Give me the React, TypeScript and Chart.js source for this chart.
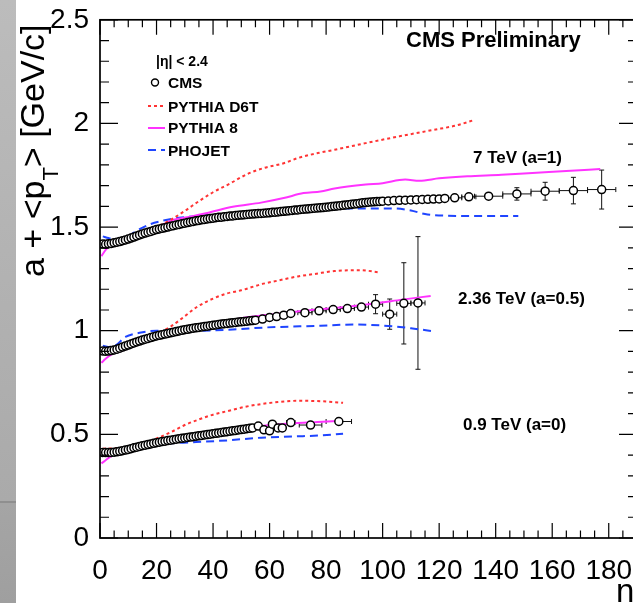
import React, { useEffect, useRef } from "react";
import { Chart, registerables } from "chart.js";
Chart.register(...registerables);

const FONT = '"Liberation Sans", Arial, Helvetica, sans-serif';

// ---------- axes ----------
const X_MIN = 0;
const X_MAX = 190;
const Y_MIN = 0;
const Y_MAX = 2.5;
const X_MAJOR = 20;
const X_MINOR = 5;
const Y_MAJOR = 0.5;
const Y_MINOR = 0.1;

// ---------- CMS data ----------
// 7 TeV (a=1): n = 1..100
const cms7Dense = [
  1.418, 1.417, 1.419, 1.421, 1.424, 1.427, 1.43, 1.434, 1.438, 1.442,
  1.447, 1.452, 1.457, 1.462, 1.467, 1.471, 1.475, 1.479, 1.484, 1.488,
  1.491, 1.494, 1.497, 1.5, 1.504, 1.507, 1.51, 1.513, 1.516, 1.519,
  1.522, 1.525, 1.527, 1.53, 1.532, 1.535, 1.537, 1.539, 1.541, 1.543,
  1.545, 1.547, 1.548, 1.55, 1.551, 1.553, 1.554, 1.556, 1.557, 1.558,
  1.559, 1.561, 1.562, 1.563, 1.564, 1.565, 1.566, 1.567, 1.568, 1.569,
  1.571, 1.572, 1.573, 1.575, 1.576, 1.577, 1.579, 1.58, 1.582, 1.583,
  1.585, 1.586, 1.587, 1.588, 1.59, 1.591, 1.592, 1.593, 1.594, 1.596,
  1.597, 1.599, 1.6, 1.602, 1.603, 1.605, 1.607, 1.608, 1.61, 1.611,
  1.613, 1.615, 1.617, 1.618, 1.62, 1.621, 1.622, 1.623, 1.624, 1.625,
];
const cms7WideN = [102, 104, 106, 108, 110, 112, 114, 116, 118, 120, 122, 125.5, 130.5, 137.5, 147.5, 157.5, 167.5, 177.5];
const cms7Wide = [1.626, 1.628, 1.629, 1.63, 1.631, 1.632, 1.633, 1.634, 1.635, 1.636, 1.638, 1.641, 1.646, 1.649, 1.66, 1.673, 1.676, 1.681];
const cms7WideErrY = [0.003, 0.003, 0.003, 0.003, 0.003, 0.003, 0.003, 0.004, 0.004, 0.004, 0.005, 0.006, 0.008, 0.012, 0.03, 0.043, 0.064, 0.094];
const cms7WideErrX = [1, 1, 1, 1, 1, 1, 1, 1, 1, 1, 1, 2.5, 2.5, 5, 5, 5, 5, 5];

// 2.36 TeV (a=0.5): n = 1..55
const cms236Dense = [
  0.902, 0.901, 0.902, 0.904, 0.907, 0.911, 0.916, 0.921, 0.926, 0.931,
  0.936, 0.941, 0.946, 0.95, 0.955, 0.959, 0.963, 0.967, 0.971, 0.975,
  0.978, 0.981, 0.984, 0.987, 0.99, 0.993, 0.996, 0.999, 1.002, 1.005,
  1.007, 1.01, 1.012, 1.014, 1.016, 1.018, 1.02, 1.022, 1.024, 1.026,
  1.028, 1.03, 1.032, 1.034, 1.035, 1.037, 1.039, 1.04, 1.042, 1.043,
  1.045, 1.046, 1.048, 1.049, 1.051,
];
const cms236WideN = [57.5, 60, 62.5, 65, 67.5, 72.5, 77.5, 82.5, 87.5, 92.5, 97.5, 102.5, 107.5, 112.5];
const cms236Wide = [1.056, 1.064, 1.068, 1.075, 1.083, 1.087, 1.096, 1.102, 1.107, 1.114, 1.128, 1.08, 1.132, 1.134];
const cms236WideErrY = [0.004, 0.004, 0.005, 0.005, 0.006, 0.007, 0.008, 0.01, 0.012, 0.015, 0.046, 0.073, 0.196, 0.32];
const cms236WideErrX = [1.25, 1.25, 1.25, 1.25, 1.25, 2.5, 2.5, 2.5, 2.5, 2.5, 2.5, 2.5, 2.5, 2.5];

// 0.9 TeV (a=0): n = 1..54
const cms09Dense = [
  0.413, 0.412, 0.412, 0.413, 0.414, 0.416, 0.418, 0.421, 0.424, 0.427,
  0.431, 0.435, 0.438, 0.442, 0.445, 0.448, 0.451, 0.454, 0.457, 0.46,
  0.462, 0.465, 0.467, 0.47, 0.472, 0.474, 0.477, 0.479, 0.481, 0.483,
  0.485, 0.487, 0.489, 0.491, 0.493, 0.495, 0.497, 0.499, 0.501, 0.503,
  0.505, 0.507, 0.509, 0.511, 0.513, 0.515, 0.517, 0.519, 0.521, 0.523,
  0.525, 0.527, 0.529, 0.531,
];
const cms09WideN = [56, 58, 60, 61, 63, 64.5, 67.5, 74.5, 84.5];
const cms09Wide = [0.54, 0.522, 0.517, 0.549, 0.531, 0.531, 0.557, 0.545, 0.562];
const cms09WideErrY = [0.005, 0.006, 0.006, 0.007, 0.007, 0.008, 0.008, 0.01, 0.012];
const cms09WideErrX = [1, 1, 1, 1, 1, 1, 1.5, 4, 4.5];

// ---------- MC curves ----------
const d6t7N = [1, 5, 10, 15, 20, 25, 30, 35, 40, 46, 52, 58, 65, 70, 77, 83, 94, 106, 118, 126, 132];
const d6t7V = [1.43, 1.432, 1.445, 1.468, 1.5, 1.535, 1.578, 1.625, 1.668, 1.71, 1.755, 1.785, 1.808, 1.833, 1.857, 1.873, 1.905, 1.938, 1.969, 1.99, 2.015];
const py87N = [0.5, 2, 4, 7, 10, 14, 18, 22, 26, 31, 38, 47, 57, 65, 72, 78, 83, 94, 100, 108, 113, 120, 130, 142, 153, 165, 177];
const py87V = [1.36, 1.39, 1.415, 1.432, 1.443, 1.46, 1.483, 1.51, 1.535, 1.548, 1.568, 1.598, 1.618, 1.64, 1.664, 1.672, 1.686, 1.705, 1.712, 1.729, 1.724, 1.735, 1.745, 1.752, 1.761, 1.77, 1.78];
const pho7N = [1, 3, 6, 9, 14, 18, 22, 28, 35, 45, 55, 65, 75, 90, 104, 110, 115, 122, 135, 148];
const pho7V = [1.455, 1.447, 1.44, 1.45, 1.49, 1.515, 1.53, 1.545, 1.553, 1.562, 1.572, 1.582, 1.588, 1.59, 1.59, 1.58, 1.563, 1.555, 1.553, 1.553];

const d6t236N = [1, 5, 10, 15, 20, 25, 30, 34, 40, 45, 50, 57, 63, 70, 76, 83, 92, 99];
const d6t236V = [0.915, 0.92, 0.935, 0.955, 0.982, 1.02, 1.07, 1.112, 1.155, 1.18, 1.195, 1.224, 1.242, 1.262, 1.274, 1.288, 1.292, 1.281];
const py8236N = [0.5, 2, 4, 7, 10, 15, 20, 25, 30, 35, 40, 45, 50, 55, 62, 73, 85, 97, 107, 117];
const py8236V = [0.845, 0.865, 0.885, 0.9, 0.915, 0.94, 0.963, 0.985, 1.0, 1.015, 1.03, 1.045, 1.06, 1.07, 1.08, 1.098, 1.112, 1.131, 1.15, 1.168];
const pho236N = [1, 3, 5, 9, 14, 20, 35, 47, 59, 78, 90, 100, 110, 118];
const pho236V = [0.928, 0.922, 0.925, 0.97, 0.99, 1.0, 1.0, 1.006, 1.016, 1.024, 1.03, 1.025, 1.012, 0.997];

const d6t09N = [1, 5, 10, 15, 20, 25, 30, 35, 40, 45, 51, 57, 63, 70, 78, 86];
const d6t09V = [0.431, 0.433, 0.44, 0.455, 0.48, 0.51, 0.545, 0.572, 0.595, 0.612, 0.632, 0.646, 0.656, 0.662, 0.66, 0.652];
const py809N = [0.5, 2, 4, 7, 10, 15, 20, 30, 40, 50, 60, 70, 77, 84];
const py809V = [0.36, 0.375, 0.395, 0.41, 0.42, 0.44, 0.458, 0.486, 0.508, 0.527, 0.545, 0.555, 0.56, 0.565];
const pho09N = [1, 3, 6, 10, 15, 22, 34, 45, 57, 69, 78, 86];
const pho09V = [0.423, 0.42, 0.422, 0.435, 0.448, 0.455, 0.463, 0.471, 0.484, 0.49, 0.495, 0.503];

// ---------- text ----------
const legendHeader = "|\u03b7| < 2.4";
const legendLabels = ["CMS", "PYTHIA D6T", "PYTHIA 8", "PHOJET"];
const energyLabels = ["7 TeV (a=1)", "2.36 TeV (a=0.5)", "0.9 TeV (a=0)"];
const cornerLabel = "CMS Preliminary";
const xTitle = "n";

const RED = "#ff3333";
const MAGENTA = "#ff33ff";
const BLUE = "#1f45ff";

type P = { x: number; y: number; ex?: number; ey?: number };

function densePts(vals: number[]): P[] {
  return vals.map((v, i) => ({ x: i + 1, y: v }));
}
function widePts(ns: number[], vs: number[], ex: number[], ey: number[]): P[] {
  return ns.map((n, i) => ({ x: n, y: vs[i], ex: ex[i], ey: ey[i] }));
}
function curve(ns: number[], vs: number[]): P[] {
  return ns.map((n, i) => ({ x: n, y: vs[i] }));
}

function cmsDataset(data: P[]) {
  return {
    type: "scatter" as const,
    data,
    errorBars: true,
    pointStyle: "circle",
    pointRadius: 4,
    pointBorderWidth: 1.5,
    pointBorderColor: "#000",
    pointBackgroundColor: "#fff",
    showLine: false,
    order: 0,
  };
}
function mcDataset(data: P[], color: string, dash: number[]) {
  return {
    type: "line" as const,
    data,
    borderColor: color,
    borderWidth: 2,
    borderDash: dash,
    pointRadius: 0,
    fill: false,
    cubicInterpolationMode: "monotone" as const,
    order: 1,
  };
}

const DOT = [3, 3];
const DASH = [8, 5];

const errorBarPlugin = {
  id: "errorBars",
  beforeDatasetsDraw(chart: any) {
    const { ctx, scales } = chart;
    const xs = scales.x;
    const ys = scales.y;
    ctx.save();
    ctx.strokeStyle = "#111";
    ctx.lineWidth = 1;
    ctx.beginPath();
    chart.data.datasets.forEach((ds: any) => {
      if (!ds.errorBars) return;
      ds.data.forEach((p: P) => {
        const px = xs.getPixelForValue(p.x);
        const py = ys.getPixelForValue(p.y);
        if (p.ey) {
          const t = ys.getPixelForValue(p.y + p.ey);
          const b = ys.getPixelForValue(p.y - p.ey);
          ctx.moveTo(px, t);
          ctx.lineTo(px, b);
          ctx.moveTo(px - 2.5, t);
          ctx.lineTo(px + 2.5, t);
          ctx.moveTo(px - 2.5, b);
          ctx.lineTo(px + 2.5, b);
        }
        if (p.ex) {
          const l = xs.getPixelForValue(p.x - p.ex);
          const r = xs.getPixelForValue(p.x + p.ex);
          ctx.moveTo(l, py);
          ctx.lineTo(r, py);
          ctx.moveTo(l, py - 2.5);
          ctx.lineTo(l, py + 2.5);
          ctx.moveTo(r, py - 2.5);
          ctx.lineTo(r, py + 2.5);
        }
      });
    });
    ctx.stroke();
    ctx.restore();
  },
};

const framePlugin = {
  id: "rootFrame",
  afterDraw(chart: any) {
    const { ctx, chartArea: a, scales } = chart;
    const xs = scales.x;
    const ys = scales.y;
    ctx.save();
    // ticks
    ctx.strokeStyle = "#000";
    ctx.lineWidth = 1.2;
    ctx.beginPath();
    const nx = Math.round((X_MAX - X_MIN) / X_MINOR);
    for (let k = 0; k <= nx; k++) {
      const v = X_MIN + k * X_MINOR;
      const px = xs.getPixelForValue(v);
      const major = Math.abs(v / X_MAJOR - Math.round(v / X_MAJOR)) < 1e-6;
      const len = major ? 15 : 7.5;
      ctx.moveTo(px, a.bottom);
      ctx.lineTo(px, a.bottom - len);
      ctx.moveTo(px, a.top);
      ctx.lineTo(px, a.top + len);
    }
    const ny = Math.round((Y_MAX - Y_MIN) / Y_MINOR);
    for (let k = 0; k <= ny; k++) {
      const v = Y_MIN + k * Y_MINOR;
      const py = ys.getPixelForValue(v);
      const major = Math.abs(v / Y_MAJOR - Math.round(v / Y_MAJOR)) < 1e-6;
      const len = major ? 18 : 9;
      ctx.moveTo(a.left, py);
      ctx.lineTo(a.left + len, py);
      ctx.moveTo(a.right, py);
      ctx.lineTo(a.right - len, py);
    }
    ctx.stroke();
    // frame
    ctx.lineWidth = 1.7;
    ctx.strokeRect(a.left, a.top, a.right - a.left, a.bottom - a.top);

    // corner label
    ctx.fillStyle = "#000";
    ctx.textAlign = "left";
    ctx.textBaseline = "alphabetic";
    ctx.font = `bold 22px ${FONT}`;
    ctx.fillText(cornerLabel, 406, 47);

    // legend
    ctx.font = `bold 14px ${FONT}`;
    ctx.fillText(legendHeader, 156, 66);
    ctx.font = `bold 15.5px ${FONT}`;
    const rows = [88, 111.5, 133, 155.5];
    legendLabels.forEach((t, i) => ctx.fillText(t, 168, rows[i]));
    // legend samples
    ctx.beginPath();
    ctx.arc(155, 82.5, 3.5, 0, Math.PI * 2);
    ctx.fillStyle = "#fff";
    ctx.fill();
    ctx.lineWidth = 1.4;
    ctx.strokeStyle = "#000";
    ctx.stroke();
    const samples: [string, number[], number][] = [
      [RED, DOT, 106],
      [MAGENTA, [], 128],
      [BLUE, DASH, 150],
    ];
    samples.forEach(([c, d, yy]) => {
      ctx.beginPath();
      ctx.setLineDash(d);
      ctx.strokeStyle = c;
      ctx.lineWidth = 2;
      ctx.moveTo(148, yy);
      ctx.lineTo(165, yy);
      ctx.stroke();
    });
    ctx.setLineDash([]);

    // energy labels
    ctx.fillStyle = "#000";
    ctx.font = `bold 17px ${FONT}`;
    ctx.fillText(energyLabels[0], 473, 163);
    ctx.fillText(energyLabels[1], 458, 304);
    ctx.fillText(energyLabels[2], 463, 430);

    // y title (rotated, with subscript T)
    ctx.save();
    ctx.translate(44, 277);
    ctx.rotate(-Math.PI / 2);
    ctx.font = `34px ${FONT}`;
    let cx = 0;
    const p1 = "a + <p";
    ctx.fillText(p1, cx, 0);
    cx += ctx.measureText(p1).width;
    ctx.font = `22px ${FONT}`;
    ctx.fillText("T", cx, 14);
    cx += ctx.measureText("T").width;
    ctx.font = `34px ${FONT}`;
    ctx.fillText("> [GeV/c]", cx, 0);
    ctx.restore();

    // x title (cropped at the right edge)
    ctx.font = `33px ${FONT}`;
    ctx.fillText(xTitle, 616, 602);
    ctx.restore();
  },
};

export default function App() {
  const ref = useRef<HTMLCanvasElement | null>(null);
  useEffect(() => {
    if (!ref.current) return;
    const chart = new Chart(ref.current, {
      type: "scatter",
      data: {
        datasets: [
          cmsDataset([...densePts(cms7Dense), ...widePts(cms7WideN, cms7Wide, cms7WideErrX, cms7WideErrY)]),
          cmsDataset([...densePts(cms236Dense), ...widePts(cms236WideN, cms236Wide, cms236WideErrX, cms236WideErrY)]),
          cmsDataset([...densePts(cms09Dense), ...widePts(cms09WideN, cms09Wide, cms09WideErrX, cms09WideErrY)]),
          mcDataset(curve(d6t7N, d6t7V), RED, DOT),
          mcDataset(curve(py87N, py87V), MAGENTA, []),
          mcDataset(curve(pho7N, pho7V), BLUE, DASH),
          mcDataset(curve(d6t236N, d6t236V), RED, DOT),
          mcDataset(curve(py8236N, py8236V), MAGENTA, []),
          mcDataset(curve(pho236N, pho236V), BLUE, DASH),
          mcDataset(curve(d6t09N, d6t09V), RED, DOT),
          mcDataset(curve(py809N, py809V), MAGENTA, []),
          mcDataset(curve(pho09N, pho09V), BLUE, DASH),
        ] as any,
      },
      options: {
        responsive: false,
        animation: false,
        devicePixelRatio: 1,
        layout: { padding: { top: 18, right: 13, left: 0, bottom: 0 } },
        plugins: { legend: { display: false }, tooltip: { enabled: false }, title: { display: false } },
        scales: {
          x: {
            type: "linear",
            min: X_MIN,
            max: X_MAX,
            grid: { display: false },
            border: { display: false },
            ticks: {
              stepSize: X_MAJOR,
              includeBounds: false,
              autoSkip: false,
              maxRotation: 0,
              padding: 8,
              color: "#000",
              font: { family: FONT, size: 28 },
            },
            afterFit: (s: any) => {
              s.height = 65;
            },
          },
          y: {
            type: "linear",
            min: Y_MIN,
            max: Y_MAX,
            grid: { display: false },
            border: { display: false },
            ticks: {
              stepSize: Y_MAJOR,
              padding: 3,
              color: "#000",
              font: { family: FONT, size: 28 },
              callback: (v: any) => String(v),
            },
            afterFit: (s: any) => {
              s.width = 100;
            },
          },
        },
      } as any,
      plugins: [errorBarPlugin, framePlugin],
    });
    return () => chart.destroy();
  }, []);

  return (
    <div
      style={{
        position: "absolute",
        left: 0,
        top: 0,
        width: 633,
        height: 603,
        overflow: "hidden",
        background: "#fff",
      }}
    >
      <div
        style={{
          position: "absolute",
          left: 0,
          top: 0,
          width: 16,
          height: 603,
          background:
            "linear-gradient(to bottom, #bcbcbc 0px, #aaaaaa 501px, #8f8f8f 501px, #8f8f8f 503px, #a5a5a5 503px, #9f9f9f 603px)",
        }}
      />
      <canvas
        ref={ref}
        width={650}
        height={603}
        style={{ position: "absolute", left: 0, top: 0, display: "block" }}
      />
    </div>
  );
}
